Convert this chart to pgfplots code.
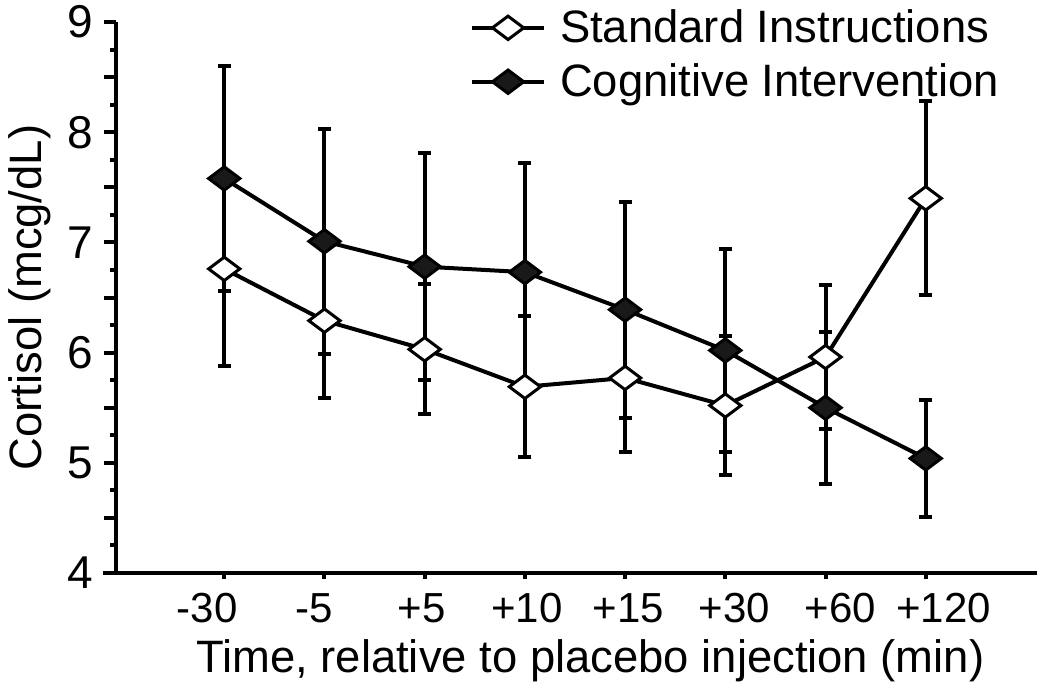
\documentclass[border=0pt]{standalone}
\usepackage{pgfplots}
\pgfplotsset{compat=1.18}
\usepackage{fontspec}
\setmainfont{Liberation Sans}

\pgfplotstableread{
x  m     e
0  6.76  0.88
1  6.29  0.70
2  6.03  0.59
3  5.69  0.64
4  5.77  0.67
5  5.52  0.63
6  5.96  0.65
7  7.40  0.88
}\standard

\pgfplotstableread{
x  m     e
0  7.58  1.02
1  7.01  1.02
2  6.78  1.03
3  6.73  0.99
4  6.39  0.98
5  6.02  0.92
6  5.50  0.69
7  5.04  0.53
}\cognitive

\begin{document}
\begin{tikzpicture}
\begin{axis}[
  scale only axis, width=460.5pt, height=275.5pt,
  xmin=-1.08, xmax=8.11, ymin=4, ymax=9,
  axis x line=bottom, axis y line=left,
  axis line style={-, line width=2pt},
  x axis line style={shorten <=-6.5pt},
  xtick={0,...,7},
  xticklabels={{\hspace*{-17pt}-30},{\hspace*{-10pt}-5},{\hspace*{-3pt}+5},{\hspace*{2pt}+10},{\hspace*{3pt}+15},{\hspace*{9pt}+30},{\hspace*{15pt}+60},{\hspace*{18pt}+120}},
  ytick={4,4.5,5,5.5,6,6.5,7,7.5,8,8.5,9}, yticklabels={4,,5,,6,,7,,8,,9},
  minor y tick num=1,
  tick align=outside,
  major tick length=6pt, minor tick length=3pt,
  xtick style={/pgfplots/major tick length=3pt},
  every tick/.style={black, line width=2pt},
  /pgf/number format/assume math mode=true,
  xticklabel style={font=\fontsize{21}{25}\selectfont, anchor=base, yshift=-18.5pt},
  yticklabel style={font=\fontsize{23}{27}\selectfont, xshift=-2pt},
  xlabel={Time, relative to placebo injection (min)},
  ylabel={Cortisol (mcg/dL)},
  every axis x label/.style={at={(axis description cs:0.515,0)}, anchor=base, yshift=-49.5pt, font=\fontsize{22.7}{27}\selectfont},
  every axis y label/.style={at={(axis description cs:0,0.5)}, xshift=-43pt, rotate=90, anchor=center, font=\fontsize{22.7}{27}\selectfont},
  legend style={at={(0.384,1.03)}, anchor=north west, draw=none, fill=none,
    font=\fontsize{22.7}{27}\selectfont, row sep=5pt, inner sep=0pt},
  legend cell align=left,
  legend image code/.code={\draw[mark repeat=2,mark phase=2,#1] plot coordinates {(0pt,0pt) (18pt,0pt) (36pt,0pt)}; \path (41pt,0pt);},
  clip=false,
]
\addplot[black, line width=2pt, mark=diamond*, mark size=7.8pt,
  mark options={rotate=90, solid, fill=white, line width=1.5pt},
  error bars/.cd, y dir=both, y explicit,
  error bar style={line width=2pt},
  error mark options={rotate=90, line width=2pt, mark size=3.2pt}]
  table[x=x, y=m, y error=e] {\standard};
\addlegendentry{Standard Instructions}
\addplot[black, line width=2pt, mark=diamond*, mark size=7.8pt,
  mark options={rotate=90, solid, fill=black!90, line width=1.5pt},
  error bars/.cd, y dir=both, y explicit,
  error bar style={line width=2pt},
  error mark options={rotate=90, line width=2pt, mark size=3.2pt}]
  table[x=x, y=m, y error=e] {\cognitive};
\addlegendentry{Cognitive Intervention}
\end{axis}
\pgfresetboundingbox
\path[use as bounding box] (-58pt,-60pt) rectangle (467pt,286.5pt);
\end{tikzpicture}
\end{document}
